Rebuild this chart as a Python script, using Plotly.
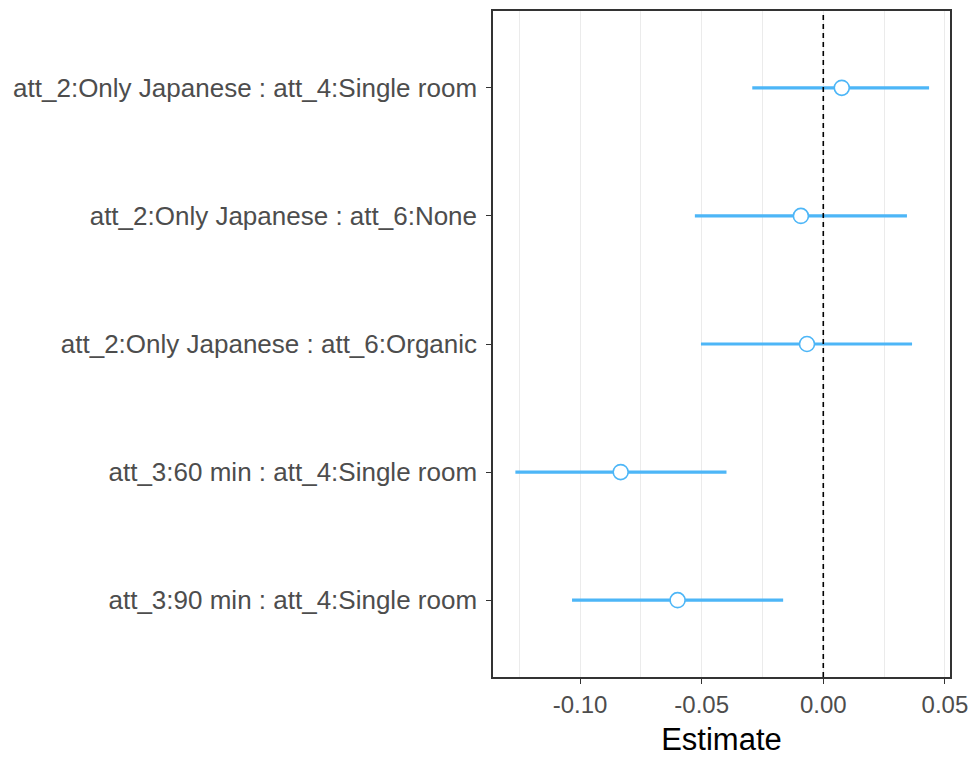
import plotly.graph_objects as go

# Interaction terms (top to bottom) with point estimates and 95% intervals
terms = [
    "att_2:Only Japanese : att_4:Single room",
    "att_2:Only Japanese : att_6:None",
    "att_2:Only Japanese : att_6:Organic",
    "att_3:60 min : att_4:Single room",
    "att_3:90 min : att_4:Single room",
]
estimate = [0.0076, -0.0092, -0.0067, -0.0833, -0.0599]
lower = [-0.0292, -0.0528, -0.0503, -0.1266, -0.1033]
upper = [0.0435, 0.0344, 0.0365, -0.0398, -0.0165]

x_ticks = [-0.10, -0.05, 0.00, 0.05]
x_tick_text = ["-0.10", "-0.05", "0.00", "0.05"]

blue = "#4DB6F7"

fig = go.Figure()
fig.add_trace(go.Scatter(
    x=estimate,
    y=terms,
    mode="markers",
    marker=dict(size=15, color="white", line=dict(color=blue, width=1.6)),
    error_x=dict(
        type="data",
        symmetric=False,
        array=[u - e for u, e in zip(upper, estimate)],
        arrayminus=[e - l for e, l in zip(estimate, lower)],
        width=0,
        thickness=3.2,
        color=blue,
    ),
    showlegend=False,
))

# reference line at zero
fig.add_shape(type="line", xref="x", yref="paper", x0=0, x1=0, y0=0, y1=1,
              line=dict(color="black", width=1.6, dash="5px,4px"), layer="above")

fig.update_layout(
    width=971, height=760,
    margin=dict(l=493, r=21, t=11, b=83),
    plot_bgcolor="white",
    paper_bgcolor="white",
    font=dict(family="Liberation Sans, Arial, sans-serif"),
)
fig.update_xaxes(
    range=[-0.1358, 0.0521],
    automargin=False,
    tickvals=x_ticks, ticktext=x_tick_text,
    tickfont=dict(size=24, color="#4D4D4D"),
    ticks="outside", ticklen=5, tickwidth=1.2, tickcolor="#333333",
    showgrid=True, gridcolor="#EBEBEB", gridwidth=1,
    minor=dict(tick0=0.025, dtick=0.05, showgrid=True, gridcolor="#EBEBEB", gridwidth=1),
    showline=True, mirror=True, linecolor="#333333", linewidth=1.5,
    zeroline=False,
    title=dict(text="Estimate", font=dict(size=31, color="black"), standoff=12),
)
fig.update_yaxes(
    categoryorder="array", categoryarray=terms,
    range=[4.6, -0.6],
    automargin=False,
    tickfont=dict(size=26, color="#4D4D4D"),
    ticks="outside", ticklen=5, tickwidth=1.2, tickcolor="#333333",
    ticklabelstandoff=4,
    showgrid=False,
    showline=True, mirror=True, linecolor="#333333", linewidth=1.5,
    zeroline=False,
)

fig.write_html("out.html")
